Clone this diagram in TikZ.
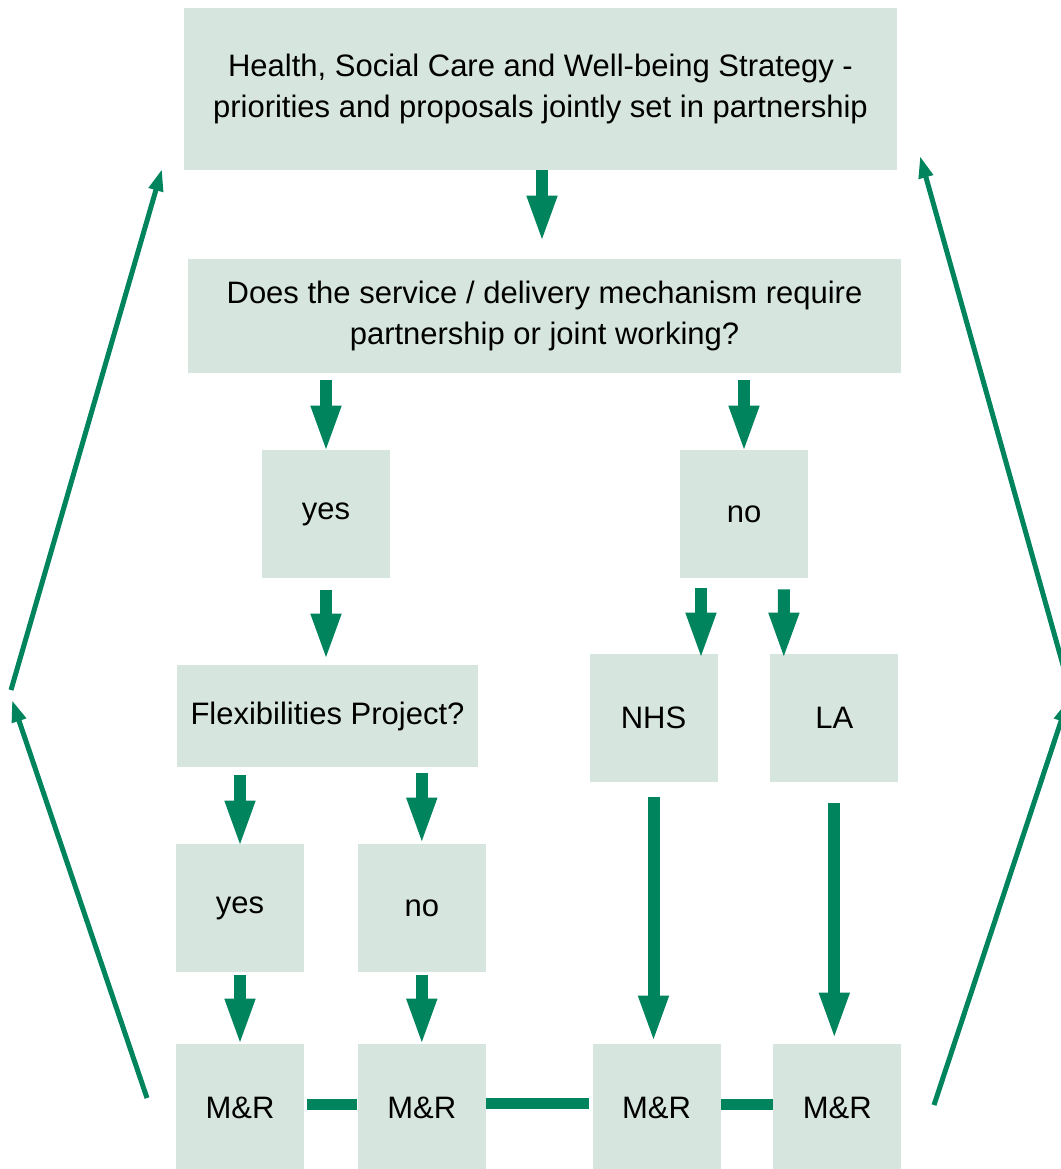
\documentclass[tikz,border=0pt]{standalone}
\usepackage{fontspec}
\setmainfont{Liberation Sans}
\usepackage{xcolor}
\usetikzlibrary{positioning,arrows.meta,calc}
\definecolor{flowgreen}{RGB}{0,132,94}
\definecolor{boxgreen}{RGB}{214,229,222}

\begin{document}
\begin{tikzpicture}[
  x=0.5pt, y=-0.5pt,
  box/.style={rectangle, fill=boxgreen, inner sep=0pt, align=center,
              font=\fontsize{15.5}{20.5}\selectfont},
  sq/.style={box, minimum width=64pt, minimum height=64pt},
  flow/.style={draw=flowgreen, line width=6pt, -{Triangle[width=13.5pt,length=24pt]}},
  link/.style={draw=flowgreen, line width=5.5pt},
  feedback/.style={draw=flowgreen, line width=2.5pt, -{Triangle[width=7pt,length=11pt]}}
]
  \useasboundingbox (0,0) rectangle (1061,1169);

  \node[box, minimum width=356.5pt, minimum height=81pt] (strategy) at (540.5,89)
    {Health, Social Care and Well-being Strategy -\\priorities and proposals jointly set in partnership};
  \node[box, minimum width=356.5pt, minimum height=57pt] (question) at (544.5,316)
    {Does the service / delivery mechanism require\\partnership or joint working?};
  \node[sq] (yesA) at (326,514) {yes};
  \node[sq] (noA) at (744,514) {no};
  \node[box, minimum width=150.5pt, minimum height=51pt] (flex) at (327.5,716) {Flexibilities Project?};
  \node[sq] (nhs) at (653.5,718) {NHS};
  \node[sq, right=26pt of nhs] (la) {LA};
  \node[sq] (yesB) at (240,908) {yes};
  \node[sq, right=26.5pt of yesB] (noB) {no};
  \node[sq] (mr1) at (240,1108) {M\&R};
  \node[sq, right=26.5pt of mr1] (mr2) {M\&R};
  \node[sq] (mr3) at (656.5,1108) {M\&R};
  \node[sq, right=26pt of mr3] (mr4) {M\&R};

  % ends of the feedback arrows
  \coordinate (lbot) at (147,1098);
  \coordinate (lmidlow) at (12,700);
  \coordinate (lmidup) at (11,690);
  \coordinate (ltop) at (162,169);
  \coordinate (rbot) at (934,1105);
  \coordinate (rmidlow) at (1068,700);
  \coordinate (rmidup) at (1070,690);
  \coordinate (rtop) at (920,156);

  \draw[flow, shorten >=7.5pt] ($(strategy.south)+(1.5,0)$) -- ($(strategy.south |- question.north)+(1.5,0)$);
  \draw[flow, shorten <=3.5pt, shorten >=-2pt] (question.south -| yesA) -- (yesA.north);
  \draw[flow, shorten <=3.5pt, shorten >=-2pt] (question.south -| noA) -- (noA.north);
  \draw[flow, shorten <=6pt, shorten >=1.5pt] (yesA.south) -- (yesA.south |- flex.north);
  \draw[flow, shorten <=5pt, shorten >=-3.5pt] ($(noA.south)+(-43,0)$) -- ($(nhs.north)+(47.5,0)$);
  \draw[flow, shorten <=5.5pt, shorten >=-3.5pt] ($(noA.south)+(40,0)$) -- ($(la.north)+(-50.5,0)$);
  \draw[flow, shorten <=4pt, shorten >=-2.5pt] (flex.south -| yesB) -- (yesB.north);
  \draw[flow, shorten <=3pt, shorten >=-1pt] (flex.south -| noB) -- (noB.north);
  \draw[flow, shorten <=1.5pt, shorten >=-1.5pt] (yesB) -- (mr1);
  \draw[flow, shorten <=1.5pt, shorten >=-1.5pt] (noB) -- (mr2);
  \draw[flow, shorten <=7.5pt, shorten >=0pt] (nhs.south) -- (nhs.south |- mr3.north);
  \draw[flow, shorten <=10.5pt, shorten >=1.5pt] (la.south) -- (la.south |- mr4.north);

  \draw[link, shorten <=1.5pt] ([yshift=2pt]mr1.east) -- ([yshift=2pt]mr2.west);
  \draw[link, shorten >=1.5pt] ([yshift=2.5pt]mr2.east) -- ([yshift=2.5pt]mr3.west);
  \draw[link] ([yshift=2pt]mr3.east) -- ([yshift=2pt]mr4.west);

  \draw[feedback] (lbot) -- (lmidlow);
  \draw[feedback] (lmidup) -- (ltop);
  \draw[feedback] (rbot) -- (rmidlow);
  \draw[feedback] (rmidup) -- (rtop);
\end{tikzpicture}
\end{document}
